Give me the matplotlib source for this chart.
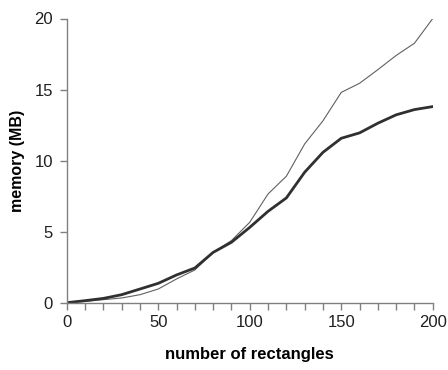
import matplotlib
matplotlib.use("Agg")
import matplotlib.pyplot as plt
from matplotlib.ticker import MultipleLocator

# number of rectangles
n_rects = [0, 10, 20, 30, 40, 50, 60, 70, 80, 90, 100,
           110, 120, 130, 140, 150, 160, 170, 180, 190, 200]
# memory (MB), thick line
mem_thick = [0, 0.14, 0.30, 0.56, 0.96, 1.36, 1.95, 2.44, 3.54, 4.25, 5.30,
             6.43, 7.37, 9.18, 10.58, 11.57, 11.95, 12.63, 13.22, 13.59, 13.80]
# memory (MB), thin line
mem_thin = [0, 0.09, 0.21, 0.33, 0.56, 0.96, 1.67, 2.30, 3.54, 4.37, 5.66,
            7.65, 8.90, 11.17, 12.80, 14.80, 15.44, 16.40, 17.40, 18.26, 20.0]

plt.rcParams['font.family'] = ['Liberation Sans', 'DejaVu Sans']

fig = plt.figure(figsize=(4.48, 3.70), dpi=100)
ax = fig.add_axes([0.149, 0.182, 0.817, 0.768])

ax.plot(n_rects, mem_thin, color='#606060', lw=0.8)
ax.plot(n_rects, mem_thick, color='#303030', lw=2.0)

ax.set_xlim(0, 200); ax.set_ylim(0, 20)
ax.xaxis.set_major_locator(MultipleLocator(50))
ax.xaxis.set_minor_locator(MultipleLocator(10))
ax.yaxis.set_major_locator(MultipleLocator(5))

for s in ['top', 'right']:
    ax.spines[s].set_visible(False)
for s in ['left', 'bottom']:
    ax.spines[s].set_color('#808080'); ax.spines[s].set_linewidth(1)

ax.tick_params(which='both', direction='out', length=5, color='#808080', width=1,
               labelsize=12, labelcolor='#202020')
ax.tick_params(axis='x', pad=4)
ax.tick_params(axis='y', pad=5)

ax.set_xlabel('number of rectangles', fontsize=12, fontweight='bold', labelpad=12)
ax.set_ylabel('memory (MB)', fontsize=11.5, fontweight='bold', labelpad=7)

fig.savefig('out.png', dpi=100)
